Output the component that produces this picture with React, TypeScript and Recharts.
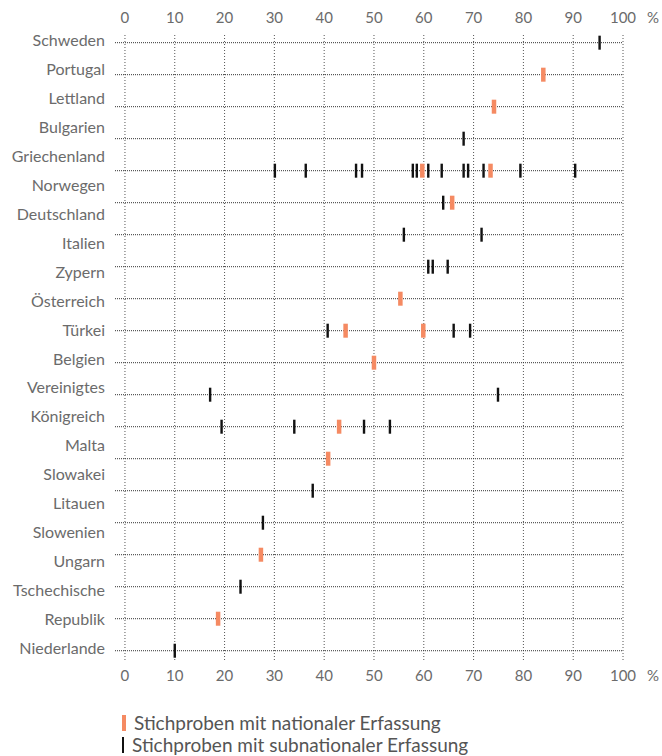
import { ComposedChart, Scatter, XAxis, YAxis, CartesianGrid } from 'recharts'

// left-hand labels as they appear (two-line names split in two)
const ROW_LABELS = [
  'Schweden', 'Portugal', 'Lettland', 'Bulgarien', 'Griechenland', 'Norwegen',
  'Deutschland', 'Italien', 'Zypern', 'Österreich', 'Türkei', 'Belgien',
  'Vereinigtes', 'Königreich', 'Malta', 'Slowakei', 'Litauen', 'Slowenien',
  'Ungarn', 'Tschechische', 'Republik', 'Niederlande',
]

// one dotted line per country
const ROWS = [
  'Schweden', 'Portugal', 'Lettland', 'Bulgarien', 'Griechenland', 'Norwegen',
  'Deutschland', 'Italien', 'Zypern', 'Österreich', 'Türkei', 'Belgien',
  'Vereinigtes Königreich', 'Malta', 'Slowakei', 'Litauen', 'Slowenien',
  'Ungarn', 'Tschechische Republik', 'Niederlande',
]

const NATIONAL: number[][] = [
  [], [84], [74.1], [], [59.7, 73.4], [65.7], [], [], [55.3], [44.3, 59.9],
  [50], [], [43], [40.8], [], [], [27.3], [], [18.7], [],
]

const SUBNATIONAL: number[][] = [
  [95.3], [], [], [68],
  [30.1, 36.3, 46.4, 47.6, 57.8, 58.6, 60.9, 63.6, 68, 68.9, 72, 79.4, 90.4],
  [63.9], [56, 71.6], [60.9, 61.8, 64.8], [], [40.7, 66, 69.3],
  [], [17.1, 74.9], [19.4, 34, 48, 53.2], [], [37.7], [27.7], [], [23.2], [], [10],
]

const X_TICKS = [0, 10, 20, 30, 40, 50, 60, 70, 80, 90, 100]

const ORANGE = '#f58a62'
const GRAY = '#6b6b6b'
const FONT = 'Lato, "Open Sans", sans-serif'

const nationalPts = NATIONAL.flatMap((vals, row) => vals.map((x) => ({ x, y: row })))
const subnationalPts = SUBNATIONAL.flatMap((vals, row) => vals.map((x) => ({ x, y: row })))
const rowTicks = ROWS.map((_, i) => i)
const labelTicks = ROW_LABELS.map((_, i) => i)

const mark = (color: string, w: number) => (p: any) => (
  <rect x={p.cx - w / 2} y={p.cy - 7} width={w} height={14} fill={color} />
)

const percent = (base: number) => (p: any) => (
  <text
    x={p.viewBox.x + p.viewBox.width + 24}
    y={p.viewBox.y + base}
    fill={GRAY}
    fontSize={15}
    fontFamily={FONT}
  >
    %
  </text>
)

export default function App() {
  const tick = { fill: GRAY, fontSize: 15, fontFamily: FONT }
  return (
    <div
      style={{
        fontFamily: FONT,
        padding: 8,
        boxSizing: 'border-box',
        width: 662,
        height: 756,
        overflow: 'hidden',
      }}
    >
      {/* let the chart use the full window width */}
      <style>{'body{margin:0}'}</style>
      <ComposedChart
        width={654}
        height={682}
        data={subnationalPts}
        margin={{ top: 0, right: 39, bottom: 0, left: 0 }}
      >
        <CartesianGrid
          horizontal={false}
          stroke="#555"
          strokeDasharray="1 2"
          yAxisId="rows"
          syncWithTicks
        />
        <CartesianGrid
          vertical={false}
          stroke="#333"
          strokeDasharray="1 1"
          yAxisId="rows"
          syncWithTicks
        />
        <XAxis
          xAxisId="top"
          orientation="top"
          type="number"
          dataKey="x"
          domain={[-2, 100]}
          allowDataOverflow
          ticks={X_TICKS}
          height={27}
          tickLine={false}
          axisLine={false}
          tickSize={6}
          tickMargin={6}
          tick={tick}
          label={percent(15)}
        />
        <XAxis
          type="number"
          dataKey="x"
          domain={[-2, 100]}
          allowDataOverflow
          ticks={X_TICKS}
          height={30}
          tickLine={false}
          axisLine={false}
          tickSize={6}
          tickMargin={4}
          tick={tick}
          label={percent(21)}
        />
        <YAxis
          yAxisId="rows"
          type="number"
          dataKey="y"
          domain={[-0.24, 19.29]}
          allowDataOverflow
          reversed
          ticks={rowTicks}
          hide
        />
        <YAxis
          yAxisId="labels"
          type="number"
          dataKey="y"
          domain={[-0.197, 21.41]}
          allowDataOverflow
          reversed
          ticks={labelTicks}
          interval={0}
          tickFormatter={(i: number) => ROW_LABELS[i] ?? ''}
          width={107}
          tickLine={false}
          axisLine={false}
          tickSize={6}
          tickMargin={4}
          tick={{ ...tick, fontSize: 16 }}
        />
        <Scatter
          data={subnationalPts}
          yAxisId="rows"
          fill="#111"
          shape={mark('#111', 2.4)}
          isAnimationActive={false}
        />
        <Scatter
          data={nationalPts}
          yAxisId="rows"
          fill={ORANGE}
          shape={mark(ORANGE, 4.5)}
          isAnimationActive={false}
        />
      </ComposedChart>
      <div style={{ marginLeft: 114, paddingTop: 22, color: '#555', fontSize: 19, lineHeight: '22px' }}>
        <div style={{ display: 'flex', alignItems: 'center' }}>
          <span style={{ display: 'inline-block', width: 4, height: 16, background: ORANGE, marginRight: 8 }} />
          Stichproben mit nationaler Erfassung
        </div>
        <div style={{ display: 'flex', alignItems: 'center' }}>
          <span style={{ display: 'inline-block', width: 2, height: 16, background: '#111', marginRight: 8 }} />
          Stichproben mit subnationaler Erfassung
        </div>
      </div>
    </div>
  )
}
